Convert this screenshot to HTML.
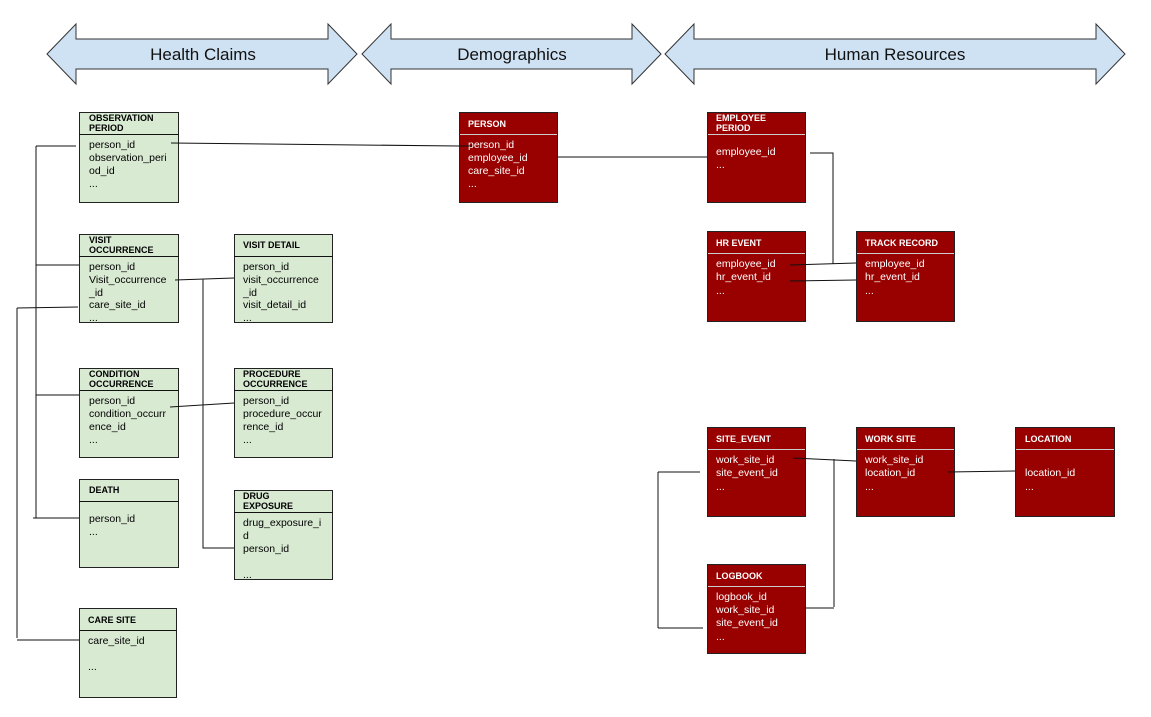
<!DOCTYPE html>
<html><head><meta charset="utf-8"><style>
body{margin:0;background:#fff}
svg{display:block;font-family:"Liberation Sans",Arial,sans-serif}
.g{fill:#d9ead3;stroke:#222;stroke-width:1}
.r{fill:#990000;stroke:#222;stroke-width:1}
.h{font-size:9px;font-weight:bold}
.f{font-size:10.5px}
.w{fill:#fff}
.l{stroke:#111;stroke-width:1;fill:none}
</style></head><body>
<svg width="1151" height="717" viewBox="0 0 1151 717">
<!-- banners -->
<g fill="#cfe2f3" stroke="#333" stroke-width="1">
<polygon points="47,54 76,24 76,39 328,39 328,24 357,54 328,84 328,69 76,69 76,84"/>
<polygon points="362,54 391,24 391,39 632,39 632,24 661,54 632,84 632,69 391,69 391,84"/>
<polygon points="665,54 694,24 694,39 1096,39 1096,24 1125,54 1096,84 1096,69 694,69 694,84"/>
</g>
<g font-size="17" text-anchor="middle" fill="#111">
<text x="203" y="60">Health Claims</text>
<text x="512" y="60">Demographics</text>
<text x="895" y="60">Human Resources</text>
</g>
<!-- green boxes -->
<g>
<rect class="g" x="79.5" y="112.5" width="99" height="90"/><line class="l" x1="79" y1="134.5" x2="179" y2="134.5"/>
<text class="h" x="89" y="121">OBSERVATION</text><text class="h" x="89" y="131">PERIOD</text>
<text class="f" x="89" y="148">person_id</text><text class="f" x="89" y="161">observation_peri</text><text class="f" x="89" y="174">od_id</text><text class="f" x="89" y="187">...</text>

<rect class="g" x="79.5" y="234.5" width="99" height="88"/><line class="l" x1="79" y1="256.5" x2="179" y2="256.5"/>
<text class="h" x="89" y="243">VISIT</text><text class="h" x="89" y="253">OCCURRENCE</text>
<text class="f" x="89" y="270">person_id</text><text class="f" x="89" y="283">Visit_occurrence</text><text class="f" x="89" y="296">_id</text><text class="f" x="89" y="308">care_site_id</text><text class="f" x="89" y="321">...</text>

<rect class="g" x="234.5" y="234.5" width="98" height="88"/><line class="l" x1="234" y1="256.5" x2="333" y2="256.5"/>
<text class="h" x="243" y="248">VISIT DETAIL</text>
<text class="f" x="243" y="270">person_id</text><text class="f" x="243" y="283">visit_occurrence</text><text class="f" x="243" y="296">_id</text><text class="f" x="243" y="308">visit_detail_id</text><text class="f" x="243" y="321">...</text>

<rect class="g" x="79.5" y="368.5" width="99" height="89"/><line class="l" x1="79" y1="390.5" x2="179" y2="390.5"/>
<text class="h" x="89" y="377">CONDITION</text><text class="h" x="89" y="387">OCCURRENCE</text>
<text class="f" x="89" y="404">person_id</text><text class="f" x="89" y="417">condition_occurr</text><text class="f" x="89" y="430">ence_id</text><text class="f" x="89" y="443">...</text>

<rect class="g" x="234.5" y="368.5" width="98" height="89"/><line class="l" x1="234" y1="390.5" x2="333" y2="390.5"/>
<text class="h" x="243" y="377">PROCEDURE</text><text class="h" x="243" y="387">OCCURRENCE</text>
<text class="f" x="243" y="404">person_id</text><text class="f" x="243" y="417">procedure_occur</text><text class="f" x="243" y="430">rence_id</text><text class="f" x="243" y="443">...</text>

<rect class="g" x="79.5" y="479.5" width="99" height="88"/><line class="l" x1="79" y1="501.5" x2="179" y2="501.5"/>
<text class="h" x="89" y="493">DEATH</text>
<text class="f" x="89" y="522">person_id</text><text class="f" x="89" y="535">...</text>

<rect class="g" x="234.5" y="490.5" width="98" height="89"/><line class="l" x1="234" y1="512.5" x2="333" y2="512.5"/>
<text class="h" x="243" y="499">DRUG</text><text class="h" x="243" y="509">EXPOSURE</text>
<text class="f" x="243" y="526">drug_exposure_i</text><text class="f" x="243" y="539">d</text><text class="f" x="243" y="552">person_id</text><text class="f" x="243" y="578">...</text>

<rect class="g" x="79.5" y="608.5" width="97" height="89"/><line class="l" x1="79" y1="630.5" x2="177" y2="630.5"/>
<text class="h" x="88" y="623">CARE SITE</text>
<text class="f" x="88" y="644">care_site_id</text><text class="f" x="88" y="670">...</text>
</g>
<!-- red boxes -->
<g>
<rect class="r" x="459.5" y="112.5" width="98" height="90"/><line stroke="#ccc" x1="460" y1="134.5" x2="557" y2="134.5"/>
<text class="h w" x="468" y="127">PERSON</text>
<text class="f w" x="468" y="148">person_id</text><text class="f w" x="468" y="161">employee_id</text><text class="f w" x="468" y="174">care_site_id</text><text class="f w" x="468" y="187">...</text>

<rect class="r" x="707.5" y="112.5" width="98" height="90"/><line stroke="#ccc" x1="708" y1="134.5" x2="805" y2="134.5"/>
<text class="h w" x="716" y="121">EMPLOYEE</text><text class="h w" x="716" y="131">PERIOD</text>
<text class="f w" x="716" y="155">employee_id</text><text class="f w" x="716" y="168">...</text>

<rect class="r" x="707.5" y="231.5" width="98" height="90"/><line stroke="#ccc" x1="708" y1="253.5" x2="805" y2="253.5"/>
<text class="h w" x="716" y="246">HR EVENT</text>
<text class="f w" x="716" y="267">employee_id</text><text class="f w" x="716" y="280">hr_event_id</text><text class="f w" x="716" y="294">...</text>

<rect class="r" x="856.5" y="231.5" width="98" height="90"/><line stroke="#ccc" x1="857" y1="253.5" x2="954" y2="253.5"/>
<text class="h w" x="865" y="246">TRACK RECORD</text>
<text class="f w" x="865" y="267">employee_id</text><text class="f w" x="865" y="280">hr_event_id</text><text class="f w" x="865" y="294">...</text>

<rect class="r" x="707.5" y="427.5" width="98" height="89"/><line stroke="#ccc" x1="708" y1="449.5" x2="805" y2="449.5"/>
<text class="h w" x="716" y="442">SITE_EVENT</text>
<text class="f w" x="716" y="463">work_site_id</text><text class="f w" x="716" y="476">site_event_id</text><text class="f w" x="716" y="490">...</text>

<rect class="r" x="856.5" y="427.5" width="98" height="89"/><line stroke="#ccc" x1="857" y1="449.5" x2="954" y2="449.5"/>
<text class="h w" x="865" y="442">WORK SITE</text>
<text class="f w" x="865" y="463">work_site_id</text><text class="f w" x="865" y="476">location_id</text><text class="f w" x="865" y="490">...</text>

<rect class="r" x="1015.5" y="427.5" width="99" height="89"/><line stroke="#ccc" x1="1016" y1="449.5" x2="1114" y2="449.5"/>
<text class="h w" x="1025" y="442">LOCATION</text>
<text class="f w" x="1025" y="476">location_id</text><text class="f w" x="1025" y="490">...</text>

<rect class="r" x="707.5" y="564.5" width="98" height="89"/><line stroke="#ccc" x1="708" y1="586.5" x2="805" y2="586.5"/>
<text class="h w" x="716" y="579">LOGBOOK</text>
<text class="f w" x="716" y="600">logbook_id</text><text class="f w" x="716" y="613">work_site_id</text><text class="f w" x="716" y="626">site_event_id</text><text class="f w" x="716" y="640">...</text>
</g>
<!-- lines -->
<g class="l">
<path d="M36,146 V518 M36,146 H76 M36,265 H79 M36,395 H79 M33,518 H79"/>
<path d="M17,308 V638 M17,308 L78,307 M17,640 H79"/>
<path d="M171,143 L459,146 L472,146"/>
<path d="M557,157 H707"/>
<path d="M175,280 L234,278 M203,279 V548 H234 M170,407 L234,403"/>
<path d="M810,153 H833 V264 M790,265 L856,263 M790,281 L856,280"/>
<path d="M793,458 L856,461 M834,459 V607 M805,608 H834 M658,472 V628 M658,472 H700 M658,628 H703 M948,472 L1015,471"/>
</g>
</svg>
</body></html>
